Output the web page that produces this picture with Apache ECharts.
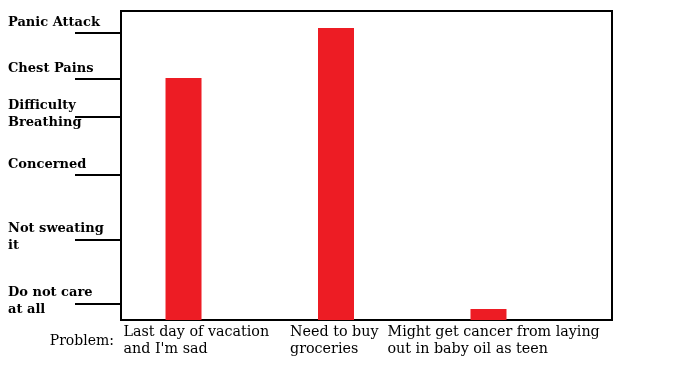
<!DOCTYPE html>
<html><head><meta charset="utf-8">
<script src="https://cdn.jsdelivr.net/npm/echarts@6/dist/echarts.min.js"></script>
<style>html,body{margin:0;padding:0;background:#fff}#c{width:676px;height:366px}</style>
</head><body><div id="c"></div>
<script>
// ---- data ----
const problems = ["Last day of vacation\nand I'm sad", "Need to buy\ngroceries", "Might get cancer from laying\nout in baby oil as teen"];
const worryLevel = [242, 292, 11];
const levelValues = [16, 80, 145, 203, 241, 287];
const levelLabels = ["Do not care\nat all", "Not sweating\nit", "Concerned", "Difficulty\nBreathing", "Chest Pains", "Panic Attack"];
const xAxisName = "Problem:";

// ---- chart ----
const chart = echarts.init(document.getElementById('c'), null, {renderer: 'canvas'});
const positions = problems.map((_, i) => i);
const serif = 'DejaVu Serif';
const labelShift = [60, 46, 101];
const xRich = {};
labelShift.forEach((w, i) => {
  xRich['p' + i] = {width: w, align: 'left', fontFamily: serif, fontSize: 14.3, lineHeight: 17, color: '#000'};
});

chart.setOption({
  animation: false,
  backgroundColor: '#fff',
  grid: {left: 121, right: 64, top: 11, bottom: 46, show: true, borderColor: '#000', borderWidth: 2,
         containLabel: false, outerBoundsMode: 'none'},
  xAxis: {
    type: 'value', min: -0.41, max: 2.81,
    name: '{n|' + xAxisName + '}', nameLocation: 'start', nameGap: 7, nameMoveOverlap: false,
    nameTextStyle: {align: 'right', verticalAlign: 'top',
      rich: {n: {fontFamily: serif, fontSize: 14, color: '#000', lineHeight: 17, padding: [26, 0, 0, 0]}}},
    splitLine: {show: false},
    axisLine: {show: true, onZero: false, lineStyle: {color: '#000', width: 2}},
    axisTick: {show: false},
    axisLabel: {
      customValues: positions,
      hideOverlap: false, showMinLabel: true, showMaxLabel: true,
      align: 'right', verticalAlign: 'top', margin: 4,
      formatter: function (v) {
        const i = Math.round(v);
        return problems[i].split('\n').map(l => '{p' + i + '|' + l + '}').join('\n');
      },
      rich: xRich
    }
  },
  yAxis: {
    type: 'value', min: 0, max: 309,
    splitLine: {show: false},
    axisLine: {show: true, onZero: false, lineStyle: {color: '#000', width: 2}},
    axisTick: {show: true, customValues: levelValues, length: 46, lineStyle: {color: '#000', width: 2}},
    axisLabel: {
      customValues: levelValues,
      hideOverlap: false,
      align: 'left', verticalAlign: 'middle', margin: 113,
      padding: [0, 0, 6, 0],
      formatter: function (v) {
        const i = levelValues.indexOf(v);
        const lines = levelLabels[i].split('\n');
        if (lines.length === 1) return '{one|' + lines[0] + '}';
        return lines.map(l => '{two|' + l + '}').join('\n');
      },
      rich: {
        one: {fontFamily: serif, fontWeight: 'bold', fontSize: 13, lineHeight: 17, color: '#000', padding: [0, 0, 14, 0]},
        two: {fontFamily: serif, fontWeight: 'bold', fontSize: 13, lineHeight: 17, color: '#000'}
      }
    }
  },
  series: [{
    type: 'bar',
    data: positions.map((x, i) => [x, worryLevel[i]]),
    barWidth: 36,
    itemStyle: {color: '#ED1C24'}
  }]
});
</script></body></html>
